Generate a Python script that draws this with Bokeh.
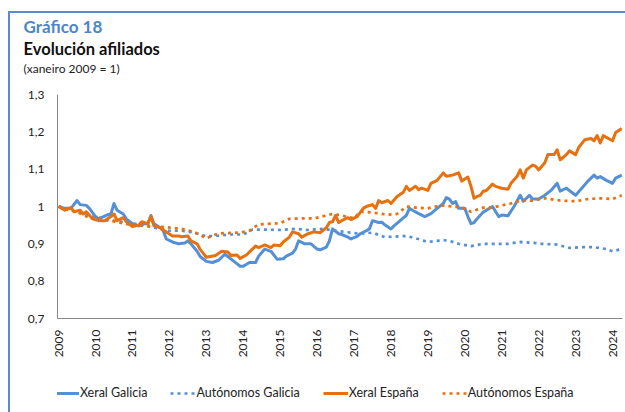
from bokeh.plotting import figure
from bokeh.models import Range1d, FixedTicker, Title, Legend, LegendItem
from bokeh.layouts import column
from bokeh.embed import file_html
from bokeh.resources import INLINE
import math

# ---- data (monthly index, xaneiro 2009 = 1) ----
xeral_galicia_dates = ["2009-01","2009-03","2009-05","2009-07","2009-08","2009-10","2009-11","2010-01","2010-02","2010-05","2010-06","2010-07","2010-08","2010-10","2010-11","2011-01","2011-03","2011-05","2011-06","2011-07","2011-08","2011-10","2011-11","2011-12","2012-02","2012-04","2012-06","2012-07","2012-08","2012-10","2012-11","2013-01","2013-03","2013-05","2013-07","2013-08","2013-10","2013-12","2014-01","2014-03","2014-05","2014-06","2014-08","2014-10","2014-12","2015-02","2015-03","2015-05","2015-06","2015-07","2015-09","2015-11","2016-01","2016-02","2016-04","2016-05","2016-06","2016-08","2016-09","2016-11","2016-12","2017-02","2017-03","2017-05","2017-06","2017-07","2017-09","2017-10","2017-11","2018-01","2018-02","2018-04","2018-06","2018-07","2018-08","2018-10","2018-12","2019-02","2019-04","2019-06","2019-07","2019-08","2019-09","2019-10","2019-11","2020-01","2020-02","2020-03","2020-04","2020-05","2020-07","2020-10","2020-12","2021-01","2021-03","2021-05","2021-07","2021-08","2021-10","2021-11","2022-01","2022-03","2022-05","2022-07","2022-08","2022-10","2023-01","2023-03","2023-05","2023-07","2023-08","2023-09","2023-11","2024-01","2024-02","2024-04"]
xeral_galicia = [1.000,0.995,0.995,1.016,1.005,1.003,0.995,0.973,0.967,0.978,0.980,1.008,0.990,0.980,0.967,0.954,0.948,0.954,0.954,0.976,0.954,0.943,0.935,0.913,0.905,0.900,0.902,0.908,0.900,0.880,0.866,0.853,0.850,0.856,0.872,0.866,0.853,0.840,0.840,0.850,0.850,0.867,0.886,0.880,0.859,0.860,0.867,0.875,0.886,0.908,0.900,0.900,0.886,0.884,0.891,0.908,0.940,0.927,0.925,0.918,0.913,0.920,0.927,0.935,0.940,0.962,0.957,0.958,0.951,0.940,0.948,0.962,0.976,0.995,0.990,0.981,0.973,0.981,0.995,1.008,1.024,1.020,1.008,1.013,0.995,0.995,0.973,0.954,0.957,0.967,0.985,1.000,0.973,0.977,0.975,1.000,1.030,1.014,1.030,1.020,1.020,1.030,1.043,1.062,1.041,1.049,1.030,1.049,1.068,1.084,1.076,1.080,1.070,1.062,1.076,1.084]

autonomos_galicia_dates = ["2009-01","2009-07","2010-01","2010-07","2011-01","2011-07","2012-01","2012-05","2012-09","2013-01","2013-05","2013-09","2014-01","2014-04","2014-09","2015-01","2015-06","2015-10","2016-03","2016-07","2016-10","2017-03","2017-07","2017-11","2018-06","2018-09","2019-01","2019-06","2019-08","2019-11","2020-03","2020-07","2020-12","2021-03","2021-07","2021-11","2022-02","2022-07","2022-11","2023-03","2023-07","2023-11","2024-01","2024-04"]
autonomos_galicia = [1.000,0.985,0.972,0.962,0.955,0.945,0.935,0.935,0.930,0.920,0.922,0.925,0.925,0.938,0.938,0.937,0.940,0.937,0.940,0.935,0.932,0.927,0.930,0.918,0.921,0.915,0.905,0.910,0.908,0.900,0.894,0.900,0.900,0.900,0.905,0.903,0.900,0.898,0.889,0.891,0.891,0.886,0.880,0.886]

xeral_espana_dates = ["2009-01","2009-03","2009-05","2009-06","2009-08","2009-09","2009-10","2009-12","2010-02","2010-04","2010-06","2010-07","2010-08","2010-10","2010-11","2011-01","2011-03","2011-04","2011-06","2011-07","2011-08","2011-10","2011-12","2012-02","2012-04","2012-05","2012-07","2012-08","2012-10","2012-11","2013-01","2013-04","2013-06","2013-08","2013-09","2013-11","2013-12","2014-02","2014-05","2014-06","2014-08","2014-10","2014-11","2015-01","2015-02","2015-04","2015-05","2015-07","2015-08","2015-10","2015-12","2016-02","2016-04","2016-05","2016-06","2016-07","2016-08","2016-09","2016-11","2016-12","2017-02","2017-04","2017-05","2017-07","2017-08","2017-09","2017-10","2017-12","2018-01","2018-03","2018-05","2018-06","2018-07","2018-09","2018-10","2018-11","2019-01","2019-02","2019-04","2019-06","2019-07","2019-09","2019-11","2019-12","2020-02","2020-03","2020-04","2020-05","2020-06","2020-07","2020-08","2020-10","2020-11","2021-01","2021-03","2021-04","2021-06","2021-07","2021-08","2021-09","2021-11","2021-12","2022-01","2022-03","2022-04","2022-06","2022-07","2022-08","2022-10","2022-11","2023-01","2023-02","2023-04","2023-06","2023-07","2023-08","2023-09","2023-10","2023-11","2024-01","2024-02","2024-04"]
xeral_espana = [1.000,0.990,0.997,0.986,0.990,0.980,0.986,0.967,0.962,0.962,0.973,0.980,0.962,0.970,0.959,0.946,0.950,0.959,0.954,0.973,0.948,0.943,0.932,0.921,0.921,0.919,0.921,0.908,0.900,0.885,0.864,0.869,0.880,0.878,0.869,0.870,0.861,0.870,0.894,0.890,0.897,0.890,0.897,0.895,0.905,0.918,0.932,0.927,0.918,0.927,0.932,0.930,0.943,0.957,0.959,0.976,0.957,0.962,0.970,0.965,0.973,0.995,1.000,1.005,0.995,1.016,1.010,1.016,1.008,1.027,1.038,1.054,1.043,1.054,1.045,1.049,1.043,1.062,1.070,1.090,1.081,1.084,1.090,1.068,1.079,1.054,1.022,1.027,1.030,1.041,1.043,1.060,1.054,1.049,1.046,1.062,1.081,1.098,1.076,1.098,1.111,1.108,1.098,1.117,1.139,1.139,1.152,1.125,1.139,1.149,1.139,1.158,1.179,1.182,1.176,1.190,1.170,1.190,1.185,1.176,1.198,1.209]

autonomos_espana_dates = ["2009-01","2009-07","2009-11","2010-07","2011-01","2011-07","2011-10","2012-05","2012-09","2013-01","2013-05","2013-12","2014-03","2014-06","2014-10","2015-01","2015-04","2015-08","2015-12","2016-04","2016-06","2016-09","2017-01","2017-03","2017-07","2017-12","2018-03","2018-06","2018-09","2019-01","2019-05","2019-09","2019-12","2020-03","2020-07","2020-10","2021-01","2021-04","2021-07","2021-11","2022-03","2022-08","2023-01","2023-05","2023-09","2024-01","2024-04"]
autonomos_espana = [1.000,0.985,0.970,0.960,0.950,0.948,0.946,0.940,0.932,0.915,0.928,0.930,0.935,0.952,0.954,0.955,0.967,0.968,0.968,0.976,0.980,0.976,0.968,0.986,0.984,0.978,0.980,1.000,0.997,0.995,1.003,1.000,0.997,0.986,0.997,0.997,1.003,1.008,1.016,1.016,1.022,1.016,1.014,1.020,1.022,1.020,1.030]

year_ticks = list(range(2009, 2025))
year_labels = [str(y) for y in year_ticks]
y_ticks = [0.7, 0.8, 0.9, 1.0, 1.1, 1.2, 1.3]
y_tick_labels = ["0,7", "0,8", "0,9", "1", "1,1", "1,2", "1,3"]

series_names = ["Xeral Galicia", "Autónomos Galicia", "Xeral España", "Autónomos España"]


def to_year(d):
    y, m = d.split("-")
    return int(y) + (int(m) - 1) / 12.0


BLUE = "#5590D6"
ORANGE = "#E8700E"
FRAME_BLUE = "#5B8BC9"
FONT = "Lato"

p = figure(width=615, height=347, output_backend="svg", toolbar_location=None,
           x_range=Range1d(2008.97, 2024.27), y_range=Range1d(0.7, 1.3),
           min_border_left=47, min_border_right=3, min_border_top=0, min_border_bottom=42)
p.outline_line_color = None
p.xgrid.visible = False
p.ygrid.visible = False
p.background_fill_color = "white"
p.border_fill_color = "white"

# titles (inner first)
spacer_low = Title(text=" ", text_font_size="1px", standoff=16)
t3 = Title(text="(xaneiro 2009 = 1)", text_font=FONT, text_font_size="12px",
           text_font_style="normal", text_color="#222222", align="left", offset=-34, standoff=0)
t2 = Title(text="Evolución afiliados", text_font=FONT, text_font_size="16.5px",
           text_font_style="bold", text_color="#111111", align="left", offset=-34, standoff=0)
t1 = Title(text="Gráfico 18", text_font=FONT, text_font_size="17px",
           text_font_style="bold", text_color="#4A86C8", align="left", offset=-34, standoff=0)
for t in (spacer_low, t3, t2, t1):
    p.add_layout(t, "above")

r1 = p.line([to_year(d) for d in xeral_galicia_dates], xeral_galicia, line_color=BLUE, line_width=3, line_join="round")
r2 = p.line([to_year(d) for d in autonomos_galicia_dates], autonomos_galicia, line_color=BLUE, line_width=2.7, line_dash="3 4")
r3 = p.line([to_year(d) for d in xeral_espana_dates], xeral_espana, line_color=ORANGE, line_width=3, line_join="round")
r4 = p.line([to_year(d) for d in autonomos_espana_dates], autonomos_espana, line_color=ORANGE, line_width=2.7, line_dash="3 4")

# axes
p.xaxis.ticker = FixedTicker(ticks=year_ticks)
p.xaxis.major_label_overrides = {y: l for y, l in zip(year_ticks, year_labels)}
p.xaxis.major_label_orientation = math.pi / 2
p.yaxis.ticker = FixedTicker(ticks=y_ticks)
p.yaxis.major_label_overrides = {v: l for v, l in zip(y_ticks, y_tick_labels)}
for ax in (p.xaxis, p.yaxis):
    ax.axis_line_color = "#868686"
    ax.axis_line_width = 1
    ax.major_tick_line_color = None
    ax.minor_tick_line_color = None
    ax.major_label_text_font = FONT
    ax.major_label_text_font_size = "12px"
    ax.major_label_text_color = "#222222"
p.yaxis.major_label_standoff = 7
p.xaxis.major_label_standoff = 5

# legend strip (separate figure, legend drawn inside its frame)
pl = figure(width=615, height=52, output_backend="svg", toolbar_location=None,
            x_range=Range1d(0, 1), y_range=Range1d(0, 1), x_axis_type=None, y_axis_type=None,
            min_border=0, min_border_left=0, min_border_right=0, min_border_top=0, min_border_bottom=0)
pl.outline_line_color = None
pl.xgrid.visible = False
pl.ygrid.visible = False
nan = float("nan")
styles_r = [dict(line_color=BLUE, line_width=3), dict(line_color=BLUE, line_width=2.7, line_dash="3 4"),
            dict(line_color=ORANGE, line_width=3), dict(line_color=ORANGE, line_width=2.7, line_dash="3 4")]
leg_r = [pl.line([nan, nan], [nan, nan], **s) for s in styles_r]
legend = Legend(items=[LegendItem(label=n, renderers=[r]) for n, r in zip(series_names, leg_r)],
                orientation="horizontal", location=(-3, 12), glyph_width=25, glyph_height=12,
                label_standoff=1, spacing=23, padding=0, margin=0,
                label_text_font=FONT, label_text_font_size="12.5px", label_text_color="#222222",
                border_line_color=None, background_fill_alpha=0)
pl.add_layout(legend)

root = column(p, pl, spacing=0, margin=(11, 0, 0, 8),
              styles={"border-top": "2px solid " + FRAME_BLUE, "border-left": "2px solid " + FRAME_BLUE})

open("out.html", "w").write(file_html(root, INLINE))
